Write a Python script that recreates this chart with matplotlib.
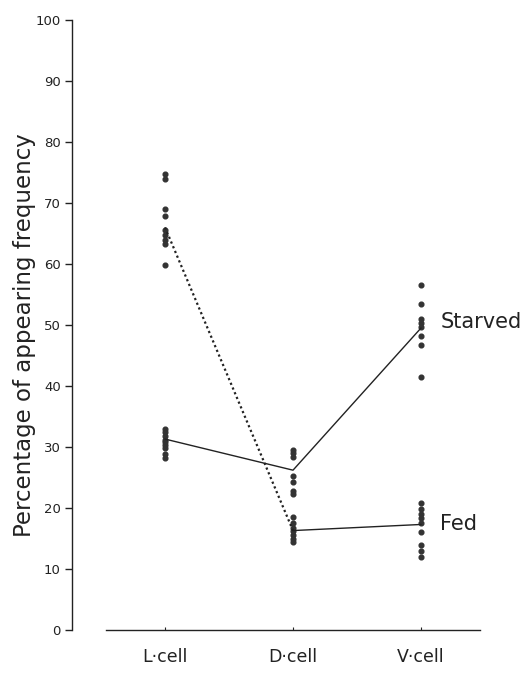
import matplotlib
matplotlib.use("Agg")
import matplotlib.pyplot as plt

categories = ["L·cell", "D·cell", "V·cell"]
starved_L = [33.0, 32.5, 31.8, 31.2, 30.8, 30.3, 29.8, 28.8, 28.2]
starved_D = [29.5, 29.0, 28.3, 25.2, 24.3, 22.8, 22.3]
starved_V = [56.5, 53.5, 51.0, 50.3, 49.6, 48.2, 46.8, 41.5]
fed_L = [74.8, 74.0, 69.0, 67.8, 65.5, 64.8, 64.0, 63.3, 59.8]
fed_D = [18.5, 17.5, 16.8, 16.2, 15.6, 15.0, 14.5]
fed_V = [20.8, 19.8, 19.0, 18.3, 17.6, 16.0, 14.0, 13.0, 12.0]
starved_mean = [31.3, 26.2, 49.5]
fed_mean = [66.0, 16.3, 17.3]
yticks = [0, 10, 20, 30, 40, 50, 60, 70, 80, 90, 100]

fig = plt.figure(figsize=(5.3, 6.95), dpi=100)
ax = fig.add_axes([72/530, 1-630/695, 1-72/530, (630-20)/695])
ax.set_xlim(-0.727, 2.852)
ax.set_ylim(0, 100)

pt = dict(color="#333333", marker="o", markersize=3.4, linestyle="none")
for i, grp in enumerate([starved_L, starved_D, starved_V]):
    ax.plot([i]*len(grp), grp, **pt)
for i, grp in enumerate([fed_L, fed_D, fed_V]):
    ax.plot([i]*len(grp), grp, **pt)

ax.plot([0, 1, 2], starved_mean, color="#222222", lw=1.0)
ax.plot([0, 1], fed_mean[:2], color="#222222", lw=1.6, linestyle=(0, (1, 1.3)))
ax.plot([1, 2], fed_mean[1:], color="#222222", lw=1.0)

ax.text(2.15, 50.5, "Starved", fontsize=15, va="center", ha="left", color="#222222")
ax.text(2.15, 17.3, "Fed", fontsize=15, va="center", ha="left", color="#222222")

for s in ["top", "right"]:
    ax.spines[s].set_visible(False)
ax.spines["left"].set_linewidth(1.0)
ax.spines["bottom"].set_linewidth(1.0)
ax.spines["bottom"].set_bounds(-0.461, 2.461)
ax.spines["left"].set_color("#222222")
ax.spines["bottom"].set_color("#222222")

ax.set_yticks(yticks)
ax.set_yticklabels([str(v) for v in yticks], fontsize=9.5, color="#222222")
ax.tick_params(axis="y", direction="out", length=5, width=1, pad=3, colors="#222222")
ax.set_xticks([0, 1, 2])
ax.set_xticklabels(categories, fontsize=12.5, color="#222222")
ax.tick_params(axis="x", direction="in", length=2, width=0.8, pad=13, colors="#222222")

ax.set_ylabel("Percentage of appearing frequency", fontsize=16.5, color="#222222")
ax.yaxis.set_label_coords(-0.079, 0.484)

fig.savefig("out.png", dpi=100)
